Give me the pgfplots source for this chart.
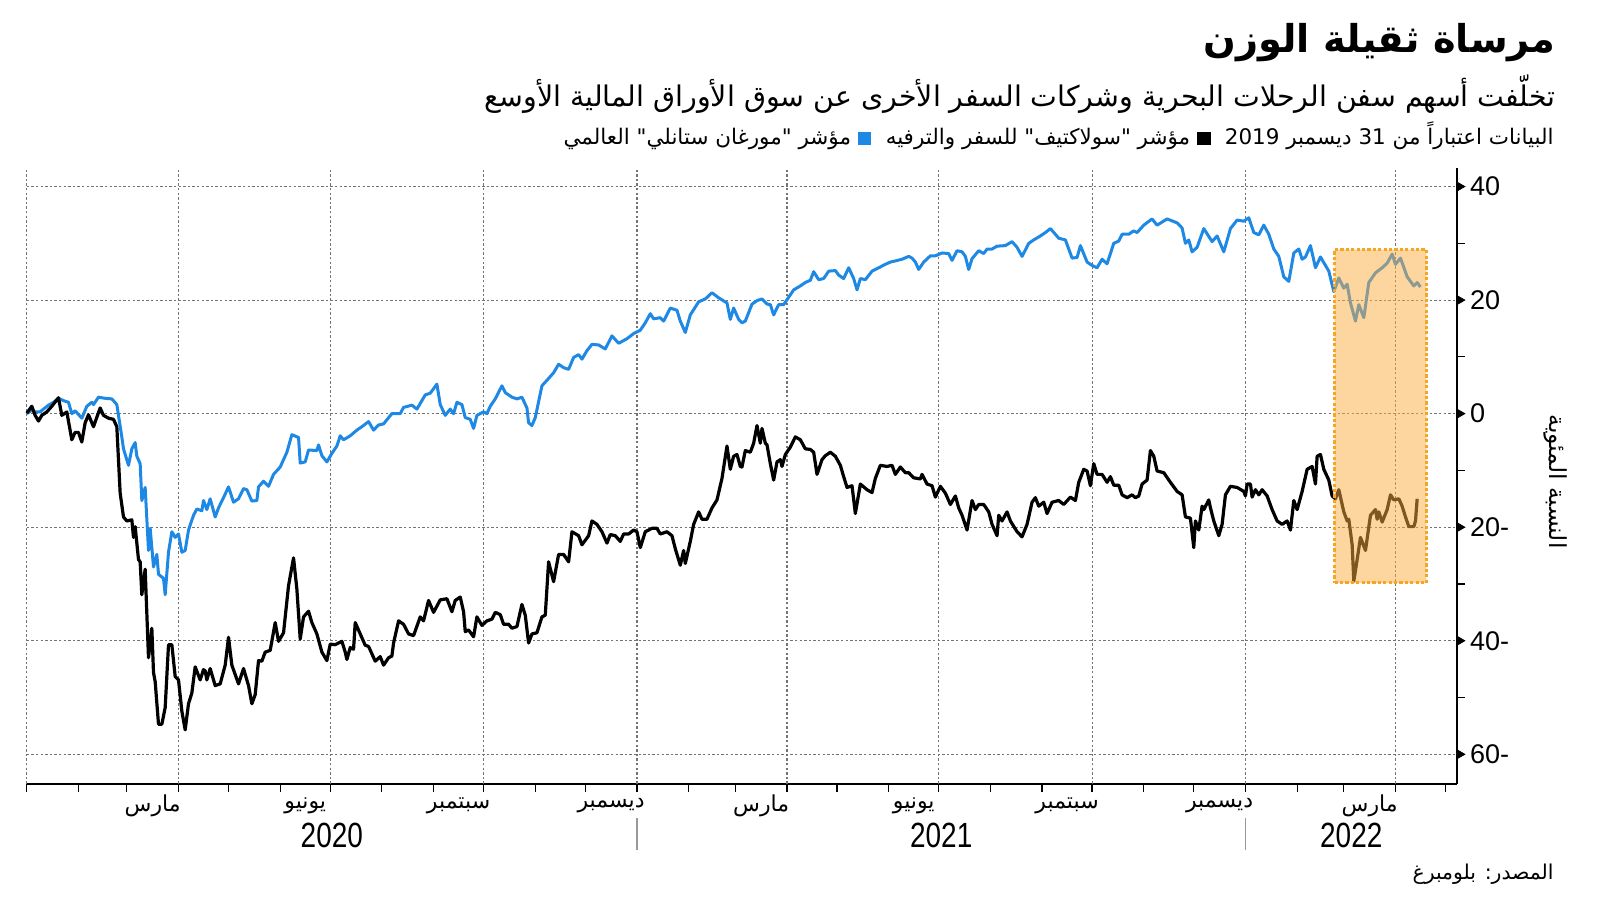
\documentclass[border=0pt]{standalone}
\usepackage{fontspec}
\usepackage{graphicx}
\usepackage{pgfplots}
\pgfplotsset{compat=1.18}
\TeXXeTstate=1
\newfontfamily\arabicfont[Script=Arabic]{DejaVu Sans}
\newfontfamily\numfont{Liberation Sans}
\definecolor{msciblue}{RGB}{30,136,229}
\definecolor{boxorange}{RGB}{250,172,64}
\definecolor{boxborder}{RGB}{245,166,35}
\definecolor{gridgray}{RGB}{115,115,115}
\newcommand\ar[1]{{\arabicfont\beginR #1\endR}}
\newcommand\tl[1]{{\numfont\fontsize{13.5}{15}\selectfont #1}}
\newcommand\yr[1]{\scalebox{0.8}[1]{\numfont\fontsize{17.5}{20}\selectfont #1}}
\begin{document}
\begin{tikzpicture}
\useasboundingbox (0,0) rectangle (800pt,450.5pt);
\begin{axis}[
  at={(13.4pt,58.6pt)}, anchor=south west,
  scale only axis, width=715.1pt, height=307.7pt,
  xmin=0, xmax=857.9, ymin=-65.2, ymax=43.2,
  clip=false,
  axis x line*=bottom, axis y line*=right,
  axis line style={black, line width=0.8pt},
  tick align=outside,
  major tick length=0pt, minor tick length=4pt,
  minor tick style={black, line width=0.6pt},
  xtick={75.5,167,259,350.5,440.5,532,624,715.5,805.5},
  xticklabels={\ar{مارس},\ar{يونيو},\ar{سبتمبر},\ar{ديسمبر},\ar{مارس},\ar{يونيو},\ar{سبتمبر},\ar{ديسمبر},\ar{مارس}},
  xticklabel style={font=\fontsize{11}{13}\selectfont, anchor=center, yshift=-11pt},
  minor xtick={0,31,60,91,121,152,182,213,244,274,305,335,366,397,425,456,486,517,547,578,609,639,670,700,731,762,790,821,851},
  extra x ticks={0,91,182,274,366,456,547,639,731,821},
  extra x tick labels={},
  extra x tick style={grid=major, major tick length=0pt},
  ytick={-60,-40,-20,0,20,40},
  yticklabels={\tl{60-},\tl{40-},\tl{20-},\tl{0},\tl{20},\tl{40}},
  yticklabel style={anchor=west, xshift=3pt},
  minor ytick={-50,-30,-10,10,30},
  ymajorgrids=true, xmajorgrids=false,
  major grid style={gridgray, line width=0.55pt, dash pattern=on 1.2pt off 1.1pt},
]
\addplot[msciblue, line width=1.5pt, line join=round] table {
0 0
3 0.6
5 0.3
8 0.3
10 0.8
13 1.5
16 2.0
19 2.7
22 2.3
25 2.0
27 0
29 0.5
33 -0.8
36 1.3
39 2.0
40 1.6
43 2.9
47 2.7
51 2.6
54 1.6
57 -4.1
58 -6.2
61 -9.1
63 -6.2
65 -5.1
66 -7.5
68 -8.8
69 -15.3
71 -13.0
73 -24.1
74 -20.2
76 -27.0
78 -24.8
79 -28.3
82 -29.0
83 -31.9
85 -24.4
87 -20.8
89 -21.8
91 -21.2
93 -24.4
95 -24.1
97 -20.5
100 -17.9
102 -16.8
105 -17.1
106 -15.3
108 -16.9
110 -15.0
113 -18.2
115 -16.6
118 -14.8
121 -12.9
124 -15.6
127 -15.0
130 -13.2
132 -13.4
135 -15.4
138 -15.3
139 -12.9
142 -11.9
145 -12.8
148 -10.7
152 -9.4
156 -6.8
159 -3.7
163 -4.2
164 -8.7
167 -8.5
169 -6.4
174 -6.5
175 -5.5
177 -7.4
180 -8.5
183 -7.0
186 -5.7
188 -3.9
190 -4.6
194 -3.9
198 -2.9
201 -2.3
205 -1.4
208 -2.9
211 -2.0
214 -1.8
219 0
224 0
226 1.1
231 1.5
234 0.8
239 3.3
242 3.6
246 5.2
248 1.6
251 -0.3
254 0.8
256 0
258 2.0
261 1.6
263 -0.7
266 -1.0
268 -2.6
270 -0.3
274 0.3
276 0
278 1.3
281 2.6
285 4.9
287 3.7
291 2.9
294 2.6
297 2.9
300 1.0
301 -1.6
303 -2.1
305 -0.7
309 4.9
313 6.2
316 7.2
319 8.7
322 8.1
325 7.8
328 9.9
331 10.4
333 9.6
336 11.1
339 12.2
343 12.1
347 11.4
351 13.7
355 12.4
360 13.2
364 14.1
368 14.7
371 16.0
374 17.6
376 16.7
380 16.9
382 16.3
386 18.6
390 18.2
392 16.3
395 14.3
398 17.4
403 19.7
407 20.2
411 21.3
415 20.4
420 19.5
422 16.6
424 18.6
427 16.6
429 16.0
431 16.3
435 19.3
438 19.9
441 20.2
444 19.3
446 19.2
448 17.4
451 19.2
454 19.2
457 20.5
460 21.8
464 22.5
467 23.1
470 23.5
472 25.0
475 23.6
478 23.8
481 25.1
485 25.2
487 24.4
490 23.8
493 25.7
496 23.8
498 21.8
500 23.8
503 23.6
507 25.1
511 25.7
515 26.3
518 26.7
521 26.9
525 27.2
529 27.7
531 27.4
533 26.7
535 25.4
538 26.7
542 27.8
545 27.8
549 28.3
553 28.2
555 27.0
558 28.7
561 28.5
563 27.7
565 25.4
567 27.3
571 28.7
574 28.2
576 29.0
579 29.0
582 29.5
587 29.6
591 30.3
594 29.3
597 27.7
601 30.0
604 30.6
608 31.3
611 31.9
614 32.6
619 30.9
623 30.6
627 27.4
630 27.5
632 29.6
636 26.7
639 26.1
642 25.7
645 27.2
648 26.4
652 30.0
655 30.4
657 31.6
661 31.6
664 32.2
666 31.9
670 33.2
675 34.3
678 33.2
684 34.3
690 33.6
693 32.7
695 30.0
697 30.6
699 28.5
702 29.3
706 32.6
711 30.3
714 31.3
718 28.5
722 32.6
726 34.1
730 33.9
733 34.5
736 31.9
739 31.5
742 33.2
745 31.6
748 29.0
751 27.7
754 24.1
757 23.3
760 28.3
763 29.0
765 27.2
767 27.6
770 29.6
773 25.7
776 27.6
781 25.1
784 21.5
787 23.9
790 22.1
792 22.8
794 19.5
797 16.3
799 19.2
802 16.9
805 23.1
809 24.8
813 25.7
816 26.5
819 28.1
821 26.3
824 27.4
828 24.1
832 22.5
834 23.1
836 22.3
};
\addplot[black, line width=1.6pt, line join=round] table {
0 0.1
3 1.3
5 -0.3
7 -1.3
9 -0.3
12 0.3
15 1.3
19 2.8
21 -0.3
24 0.3
27 -4.6
29 -3.3
31 -3.3
33 -5.0
35 -1.6
37 -0.2
40 -2.3
44 1.0
46 -0.3
49 -0.8
52 -1.0
54 -2.3
56 -14.0
58 -18.2
60 -18.9
63 -18.7
64 -21.8
65 -19.9
67 -25.7
68 -26.1
69 -31.9
71 -27.4
73 -43.0
75 -37.8
76 -45.6
77 -47.2
79 -54.7
81 -54.7
83 -51.8
85 -40.7
87 -40.7
89 -46.3
91 -46.9
93 -52.4
95 -55.7
97 -51.1
99 -49.2
101 -44.6
104 -46.9
106 -45.1
107 -45.3
108 -46.9
110 -44.9
113 -47.9
116 -47.6
119 -44.3
121 -39.4
123 -44.3
127 -47.6
130 -44.9
133 -47.9
135 -51.1
137 -49.5
139 -43.5
141 -43.6
143 -42.0
146 -41.7
149 -36.8
151 -40.1
154 -38.6
157 -30.3
160 -25.4
162 -30.9
164 -39.7
166 -35.8
169 -34.8
171 -36.8
174 -38.8
177 -42.0
180 -43.5
182 -40.6
185 -40.7
189 -40.1
191 -42.0
192 -43.3
194 -41.2
196 -41.5
197 -36.8
200 -38.8
203 -40.8
205 -41.0
209 -43.6
212 -42.8
214 -44.3
217 -43.0
219 -42.7
220 -40.4
223 -36.5
226 -37.1
229 -38.8
232 -39.1
236 -35.8
238 -36.5
241 -32.9
244 -35.0
248 -32.8
252 -32.6
255 -34.9
257 -32.9
260 -32.3
262 -34.9
263 -38.4
265 -38.1
268 -39.3
270 -35.8
273 -37.3
276 -36.5
279 -36.2
281 -35.0
284 -35.4
286 -37.1
289 -37.1
291 -37.8
294 -37.5
297 -33.6
299 -35.5
301 -40.4
303 -38.8
306 -38.6
309 -35.8
311 -35.5
313 -26.1
316 -29.6
319 -24.8
322 -24.8
325 -26.1
327 -20.8
331 -21.5
333 -23.1
337 -21.5
339 -18.9
342 -19.5
345 -20.8
348 -22.8
350 -21.3
353 -21.5
356 -22.5
358 -21.2
361 -21.2
364 -20.5
366 -20.8
368 -23.6
371 -20.8
375 -20.2
378 -20.2
380 -21.2
384 -20.8
387 -21.5
389 -23.8
392 -26.7
394 -24.1
395 -26.4
398 -22.5
400 -19.5
403 -17.3
405 -18.6
408 -18.6
411 -16.6
414 -15.2
417 -11.4
420 -5.7
422 -9.8
424 -7.5
426 -7.2
428 -9.3
429 -9.4
431 -6.5
434 -6.8
436 -5.2
438 -2.1
440 -5.2
441 -2.6
443 -5.2
444 -5.5
446 -8.8
448 -11.7
450 -8.5
452 -8.1
453 -9.3
455 -7.2
458 -5.9
461 -4.1
464 -4.6
467 -6.2
470 -6.3
472 -6.8
474 -10.7
477 -8.1
479 -7.4
482 -6.8
485 -7.5
488 -9.1
490 -11.1
492 -13.0
495 -12.7
497 -17.6
500 -12.4
504 -13.4
507 -13.9
509 -11.4
512 -9.1
516 -9.3
519 -9.1
521 -10.7
524 -9.4
527 -10.4
529 -10.4
532 -11.3
536 -11.5
537 -10.7
540 -12.4
543 -12.7
545 -14.7
548 -12.8
551 -14.0
554 -16.0
557 -14.5
559 -16.6
561 -17.9
564 -20.5
567 -15.3
569 -16.9
571 -16.0
574 -16.0
577 -17.3
579 -19.5
582 -21.5
583 -17.9
585 -18.9
588 -17.3
590 -18.9
594 -20.8
597 -21.7
600 -19.5
603 -15.6
605 -14.8
607 -16.3
610 -15.6
612 -17.6
615 -15.6
619 -15.3
622 -16.0
626 -14.7
629 -15.3
631 -12.1
634 -9.8
636 -10.1
638 -12.7
640 -8.8
642 -10.7
645 -10.7
648 -12.1
650 -11.1
652 -12.6
655 -12.6
657 -14.3
660 -14.8
663 -14.3
665 -14.8
667 -14.5
669 -12.4
672 -11.7
674 -6.5
676 -7.5
678 -10.1
682 -10.4
686 -12.1
690 -13.7
693 -14.3
695 -18.2
698 -18.4
700 -23.6
701 -18.9
703 -20.5
705 -16.3
706 -16.9
709 -15.2
710 -16.6
712 -18.9
715 -21.5
717 -19.5
719 -14.3
722 -12.8
726 -13.0
730 -13.7
731 -14.5
732 -12.4
734 -12.4
735 -14.7
737 -13.4
739 -14.3
741 -13.4
744 -14.5
747 -16.9
750 -18.9
753 -19.5
756 -18.9
758 -20.5
760 -15.3
762 -16.9
765 -13.7
768 -9.8
771 -9.3
773 -12.4
774 -7.5
776 -7.2
778 -9.8
781 -11.7
783 -14.5
785 -15.0
787 -13.4
790 -17.3
792 -18.9
793 -18.6
795 -23.1
796 -29.5
798 -25.7
800 -21.8
803 -24.1
806 -17.9
809 -16.9
810 -18.6
811 -17.3
813 -19.1
816 -16.9
818 -14.3
820 -15.2
823 -15.0
825 -16.3
827 -18.2
829 -19.9
832 -19.9
833 -18.9
834 -15.0
};
\addplot[draw=boxborder, line width=1.6pt, dash pattern=on 1.6pt off 1.1pt, fill=boxorange, fill opacity=0.5, draw opacity=1] coordinates {(784.5,-29.8) (839.5,-29.8) (839.5,28.9) (784.5,28.9) (784.5,-29.8)};
\addplot[only marks, mark=triangle*, mark size=2.6pt, mark options={xshift=1.3pt, rotate=-90, fill=black, draw=black, solid}] coordinates {(857.9,-60) (857.9,-40) (857.9,-20) (857.9,0) (857.9,20) (857.9,40)};
\node at (axis cs:183,-65.2) [yshift=-25.6pt] {\yr{2020}};
\node at (axis cs:548.5,-65.2) [yshift=-25.6pt] {\yr{2021}};
\node at (axis cs:794.5,-65.2) [yshift=-25.6pt] {\yr{2022}};
\draw[gray!80, line width=0.6pt] ([yshift=-17.2pt]axis cs:366,-65.2) -- ([yshift=-33.2pt]axis cs:366,-65.2);
\draw[gray!80, line width=0.6pt] ([yshift=-17.2pt]axis cs:731,-65.2) -- ([yshift=-33.2pt]axis cs:731,-65.2);
\end{axis}
\node[anchor=east, inner sep=0] at (778pt,429pt) {\resizebox{176pt}{!}{\arabicfont\bfseries\beginR مرساة ثقيلة الوزن\endR}};
\node[anchor=east, inner sep=0] at (778pt,403.5pt) {\resizebox{535.5pt}{!}{\arabicfont\beginR تخلّفت أسهم سفن الرحلات البحرية وشركات السفر الأخرى عن سوق الأوراق المالية الأوسع\endR}};
\node[anchor=east, inner sep=0] at (777pt,382.6pt) {\resizebox{495pt}{!}{\ar{مؤشر "مورغان ستانلي" العالمي}\ {\color{msciblue}\rule[-0.05em]{0.62em}{0.62em}}\ \ \ar{مؤشر "سولاكتيف" للسفر والترفيه}\ {\color{black}\rule[-0.05em]{0.62em}{0.62em}}\ \ \ar{البيانات اعتباراً من \beginL 31\endL{} ديسمبر \beginL 2019\endL{}}}};
\node[anchor=east, inner sep=0] at (777pt,13.25pt) {\resizebox{70.5pt}{!}{\arabicfont\beginR المصدر: بلومبرغ\endR}};
\node[rotate=-90, inner sep=0] at (778pt,209.7pt) {\resizebox{67pt}{!}{\arabicfont\beginR النسبة المئوية\endR}};
\end{tikzpicture}
\end{document}
